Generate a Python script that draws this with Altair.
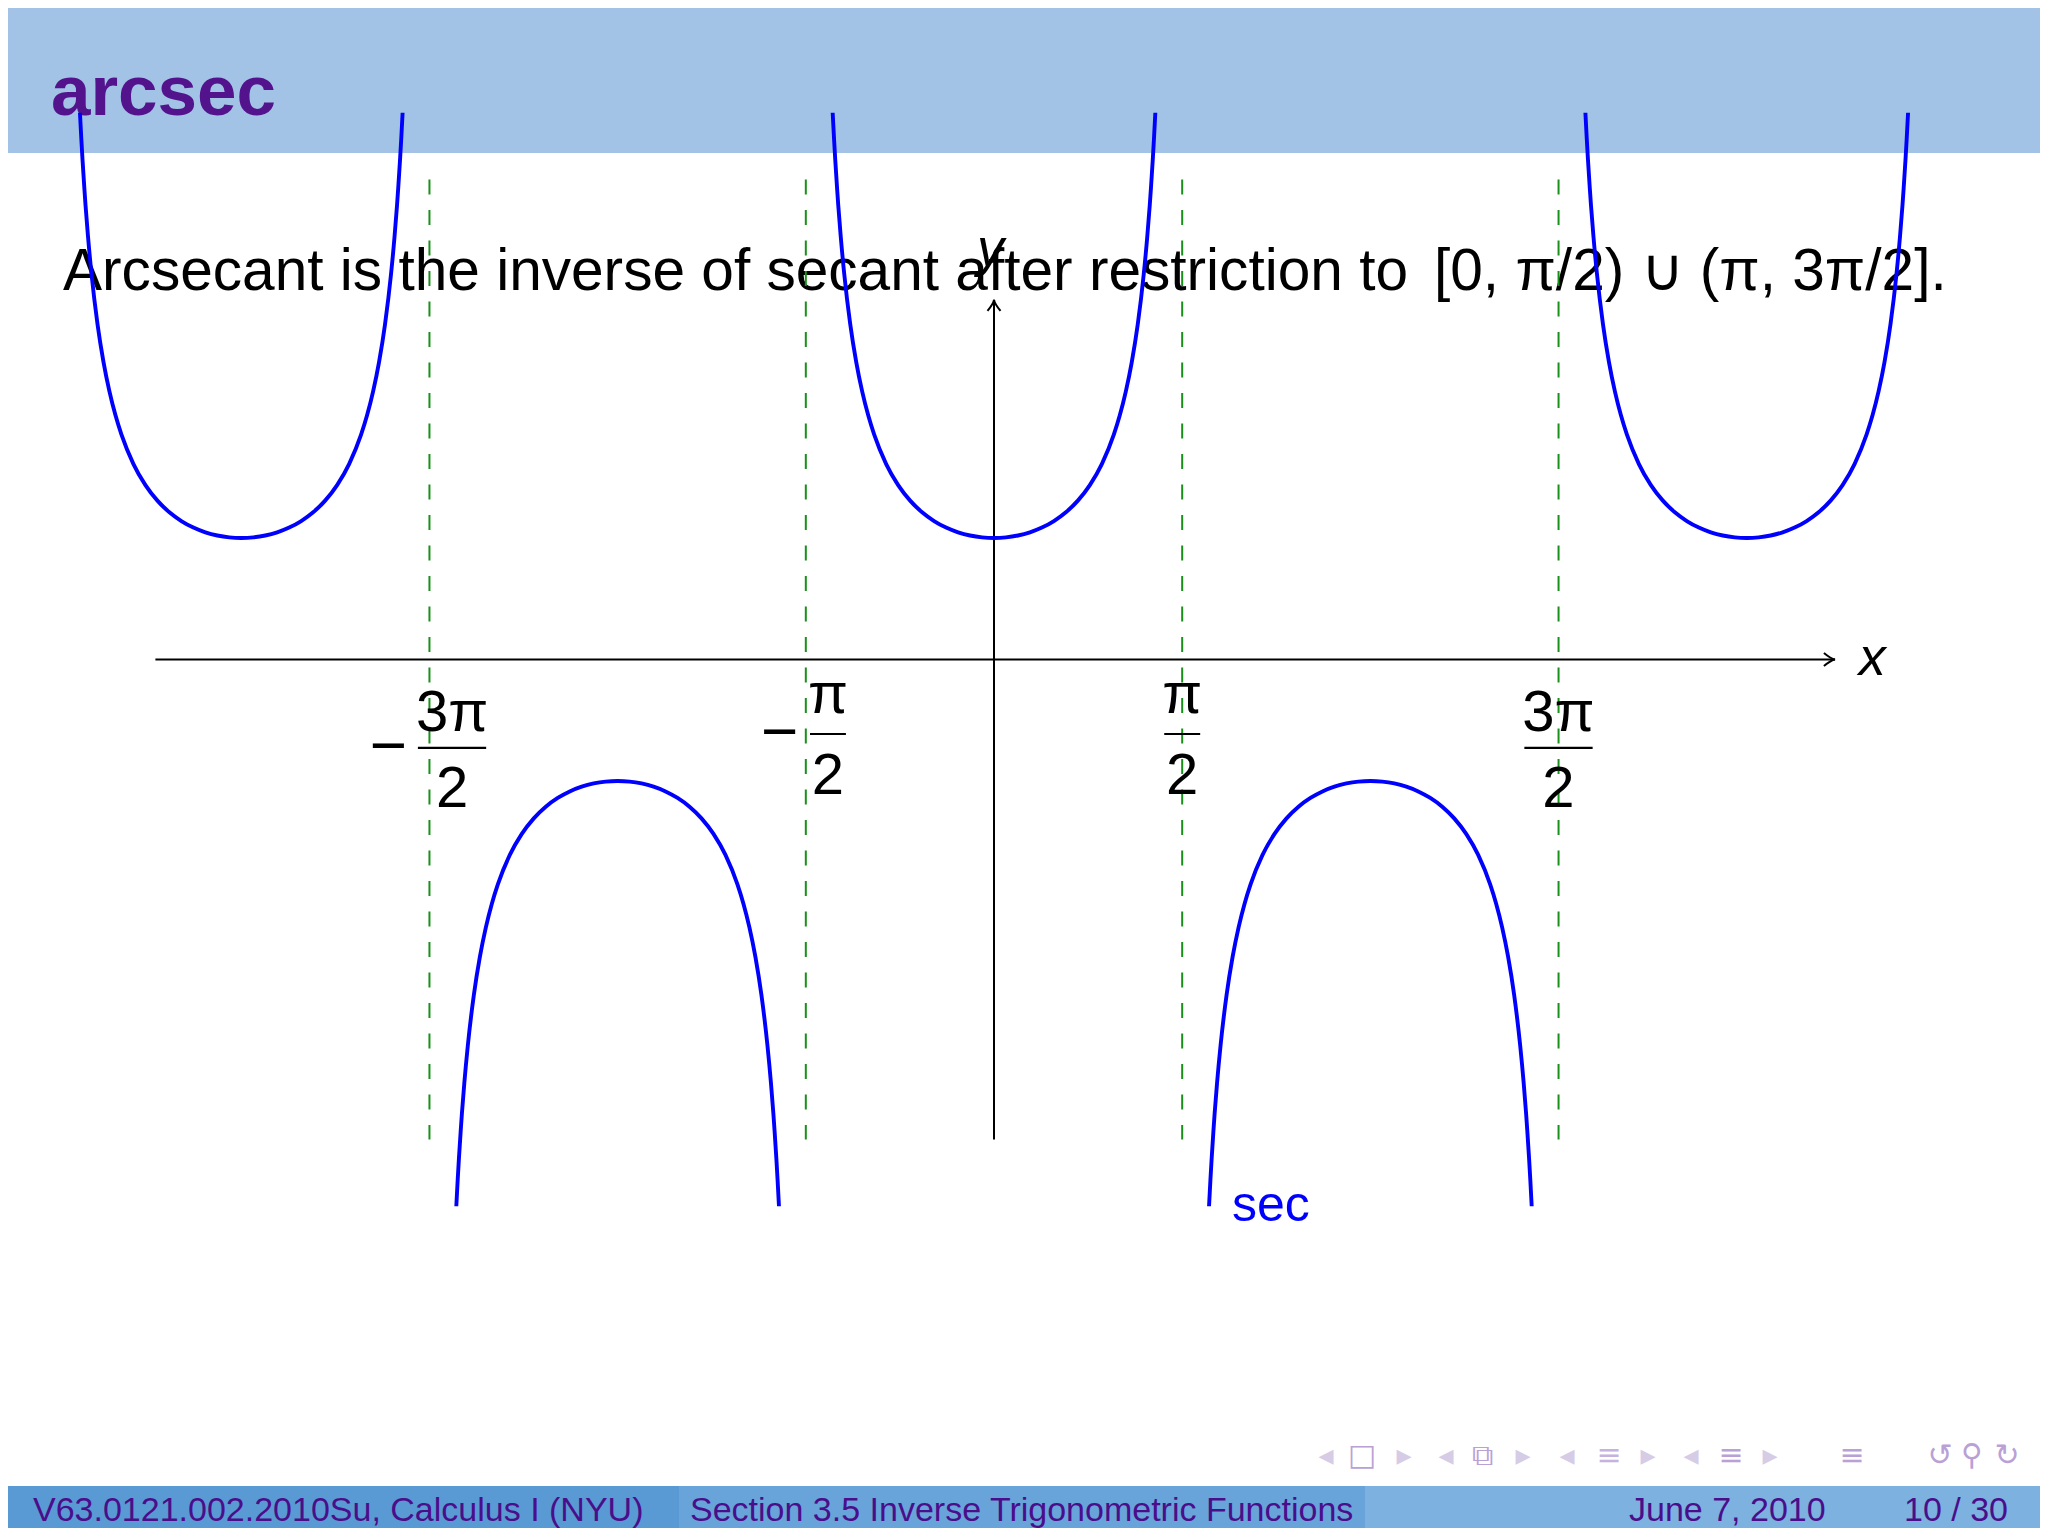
import altair as alt
import pandas as pd

# ---------------- data ----------------
# one half of a secant branch: offset from branch centre and |sec| value
HALF_T = [0.0, 0.1, 0.2, 0.3, 0.4, 0.5, 0.6, 0.7, 0.8, 0.9, 1.0, 1.05, 1.1,
          1.15, 1.2, 1.25, 1.28, 1.3, 1.31, 1.325, 1.335, 1.3467]
HALF_SEC = [1.0, 1.005, 1.0203, 1.0468, 1.0857, 1.1395, 1.2116, 1.3075, 1.4353,
            1.6087, 1.8508, 2.0098, 2.2046, 2.4481, 2.7597, 3.1714, 3.488,
            3.7383, 3.879, 4.110, 4.281, 4.5]
BRANCH_CENTERS = [-6.2832, -3.1416, 0.0, 3.1416, 6.2832]
BRANCH_SIGNS = [1, -1, 1, -1, 1]

ASYMPTOTES = [-4.7124, -1.5708, 1.5708, 4.7124]
ASYM_TOP = 3.95
ASYM_BOTTOM = -3.95

X_AXIS = [-7.0, 7.02]
Y_AXIS = [-3.95, 2.96]

NUM_TEXT = ["3π", "π", "π", "3π"]
NUM_X = [-4.524, -1.386, 1.571, 4.712]
NUM_Y = [-0.588, -0.44, -0.44, -0.588]
DEN_TEXT = ["2", "2", "2", "2"]
DEN_Y = [-1.214, -1.107, -1.107, -1.214]
BAR_HALF = [0.285, 0.15, 0.15, 0.285]
BAR_Y = [-0.728, -0.613, -0.613, -0.728]
MINUS_X = [-5.054, -1.788]
MINUS_Y = [-0.728, -0.613]

TITLE = "arcsec"
BODY_TEXT = "Arcsecant is the inverse of secant after restriction to"
BODY_MATH = "[0, π/2) ∪ (π, 3π/2]."
FOOT_LEFT = "V63.0121.002.2010Su, Calculus I  (NYU)"
FOOT_MID = "Section 3.5  Inverse Trigonometric Functions"
FOOT_DATE = "June 7, 2010"
FOOT_PAGE = "10 / 30"

# ---------------- tables ----------------
rows = []
for b, (c, s) in enumerate(zip(BRANCH_CENTERS, BRANCH_SIGNS)):
    for t, v in zip(HALF_T[::-1], HALF_SEC[::-1]):
        rows.append({"branch": b, "x": c - t, "y": s * v})
    for t, v in zip(HALF_T[1:], HALF_SEC[1:]):
        rows.append({"branch": b, "x": c + t, "y": s * v})
curve_df = pd.DataFrame(rows)

asym_df = pd.DataFrame({"x": ASYMPTOTES, "y1": [ASYM_TOP] * 4, "y2": [ASYM_BOTTOM] * 4})
axes_df = pd.DataFrame({"x1": [X_AXIS[0], 0.0], "x2": [X_AXIS[1], 0.0],
                        "y1": [0.0, Y_AXIS[0]], "y2": [0.0, Y_AXIS[1]]})
xtip_df = pd.DataFrame({"x": [X_AXIS[1]], "y": [0.0]})
ytip_df = pd.DataFrame({"x": [0.0], "y": [Y_AXIS[1]]})
num_df = pd.DataFrame({"t": NUM_TEXT, "x": NUM_X, "y": NUM_Y})
den_df = pd.DataFrame({"t": DEN_TEXT, "x": NUM_X, "y": DEN_Y})
bar_df = pd.DataFrame({"x1": [a - h for a, h in zip(NUM_X, BAR_HALF)],
                       "x2": [a + h for a, h in zip(NUM_X, BAR_HALF)],
                       "y": BAR_Y})
minus_df = pd.DataFrame({"t": ["−", "−"], "x": MINUS_X, "y": MINUS_Y})
xlab_df = pd.DataFrame({"t": ["x"], "x": [7.33], "y": [-0.128]})
ylab_df = pd.DataFrame({"t": ["y"], "x": [-0.03], "y": [3.24]})
sec_df = pd.DataFrame({"t": ["sec"], "x": [1.987], "y": [-4.62]})
one = pd.DataFrame({"k": [0]})

# ---------------- scales ----------------
W, H = 2032, 1520
XS = alt.Scale(domain=[-8.2304, 8.7312], nice=False, zero=False)
YS = alt.Scale(domain=[-7.1481, 5.3621], nice=False, zero=False)


def X(f):
    return alt.X(f"{f}:Q", scale=XS, axis=None)


def Y(f):
    return alt.Y(f"{f}:Q", scale=YS, axis=None)


SANS = "Liberation Sans, Arial, sans-serif"
HEADER = "#a3c3e6"
PURPLE = "#53138d"
BLUE = "#0000ff"
GREEN = "#199019"

layers = []

# header band + title
layers.append(alt.Chart(one).mark_rect(color=HEADER).encode(
    x=alt.value(0), x2=alt.value(W), y=alt.value(0), y2=alt.value(145)))
layers.append(alt.Chart(one).mark_text(
    text=TITLE, font=SANS, fontSize=71, fontWeight="bold", color=PURPLE,
    align="left", baseline="alphabetic").encode(x=alt.value(43), y=alt.value(107)))

# body sentence
layers.append(alt.Chart(one).mark_text(
    text=BODY_TEXT, font=SANS, fontSize=58.6, color="black",
    align="left", baseline="alphabetic").encode(x=alt.value(55), y=alt.value(282)))
layers.append(alt.Chart(one).mark_text(
    text=BODY_MATH, font=SANS, fontSize=58.6, color="black",
    align="left", baseline="alphabetic").encode(x=alt.value(1426), y=alt.value(282)))

# footer bands
for x1, x2, col in [(0, 671, "#5a9ad4"), (671, 1357, "#68a4da"), (1357, W, "#7cb1e0")]:
    layers.append(alt.Chart(one).mark_rect(color=col).encode(
        x=alt.value(x1), x2=alt.value(x2), y=alt.value(1478), y2=alt.value(H)))
for txt, xx in [(FOOT_LEFT, 25), (FOOT_MID, 682), (FOOT_DATE, 1621), (FOOT_PAGE, 1896)]:
    layers.append(alt.Chart(one).mark_text(
        text=txt, font=SANS, fontSize=34, color="#4a0e8a",
        align="left", baseline="alphabetic").encode(x=alt.value(xx), y=alt.value(1513)))

# navigation symbols
NAV = [("◂", 1318, "#d6cce6"), ("□", 1354, "#b9a1d6"), ("▸", 1396, "#d6cce6"),
       ("◂", 1438, "#d6cce6"), ("⧉", 1474, "#b9a1d6"), ("▸", 1515, "#d6cce6"),
       ("◂", 1559, "#d6cce6"), ("≡", 1601, "#c6b2de"), ("▸", 1640, "#d6cce6"),
       ("◂", 1683, "#d6cce6"), ("≡", 1723, "#b9a1d6"), ("▸", 1762, "#d6cce6"),
       ("≡", 1844, "#b9a1d6"), ("↺", 1932, "#b9a1d6"), ("⚲", 1964, "#b9a1d6"),
       ("↻", 1999, "#b9a1d6")]
for g, xx, col in NAV:
    layers.append(alt.Chart(one).mark_text(
        text=g, font="DejaVu Sans", fontSize=30, color=col,
        align="center", baseline="middle").encode(x=alt.value(xx), y=alt.value(1448)))

# asymptotes
layers.append(alt.Chart(asym_df).mark_rule(
    color=GREEN, strokeWidth=2, strokeDash=[15, 15.5]).encode(
    x=X("x"), y=Y("y1"), y2="y2:Q"))

# axes
layers.append(alt.Chart(axes_df).mark_rule(color="black", strokeWidth=2).encode(
    x=X("x1"), x2="x2:Q", y=Y("y1"), y2="y2:Q"))
layers.append(alt.Chart(xtip_df).mark_point(
    shape="M -1.7 -1 Q -0.6 -0.1 0 0 Q -0.6 0.1 -1.7 1", filled=False,
    stroke="black", strokeWidth=2, size=170, opacity=1).encode(x=X("x"), y=Y("y")))
layers.append(alt.Chart(ytip_df).mark_point(
    shape="M -1 1.7 Q -0.1 0.6 0 0 Q 0.1 0.6 1 1.7", filled=False,
    stroke="black", strokeWidth=2, size=170, opacity=1).encode(x=X("x"), y=Y("y")))

# secant branches
layers.append(alt.Chart(curve_df).mark_line(
    color=BLUE, strokeWidth=3.9, interpolate="monotone").encode(
    x=X("x"), y=Y("y"), detail="branch:N", order="x:Q"))

# tick labels as fractions
layers.append(alt.Chart(num_df).mark_text(
    font=SANS, fontSize=58, color="black", align="center", baseline="alphabetic").encode(
    x=X("x"), y=Y("y"), text="t:N"))
layers.append(alt.Chart(den_df).mark_text(
    font=SANS, fontSize=58, color="black", align="center", baseline="alphabetic").encode(
    x=X("x"), y=Y("y"), text="t:N"))
layers.append(alt.Chart(bar_df).mark_rule(color="black", strokeWidth=2.2).encode(
    x=X("x1"), x2="x2:Q", y=Y("y")))
layers.append(alt.Chart(minus_df).mark_text(
    font=SANS, fontSize=64, fontWeight="lighter", color="black", align="center", baseline="middle").encode(
    x=X("x"), y=Y("y"), text="t:N"))

# axis names and function label
layers.append(alt.Chart(xlab_df).mark_text(
    font=SANS, fontSize=54, fontStyle="italic", color="black",
    align="center", baseline="alphabetic").encode(x=X("x"), y=Y("y"), text="t:N"))
layers.append(alt.Chart(ylab_df).mark_text(
    font=SANS, fontSize=54, fontStyle="italic", color="black",
    align="center", baseline="alphabetic").encode(x=X("x"), y=Y("y"), text="t:N"))
layers.append(alt.Chart(sec_df).mark_text(
    font=SANS, fontSize=50, color=BLUE,
    align="left", baseline="alphabetic").encode(x=X("x"), y=Y("y"), text="t:N"))

chart = alt.layer(*layers).properties(
    width=W, height=H, padding=0,
    autosize=alt.AutoSizeParams(type="none"),
    background="white",
).configure_view(stroke=None)

chart.save("out.html", embed_options={"renderer": "svg", "actions": False})
